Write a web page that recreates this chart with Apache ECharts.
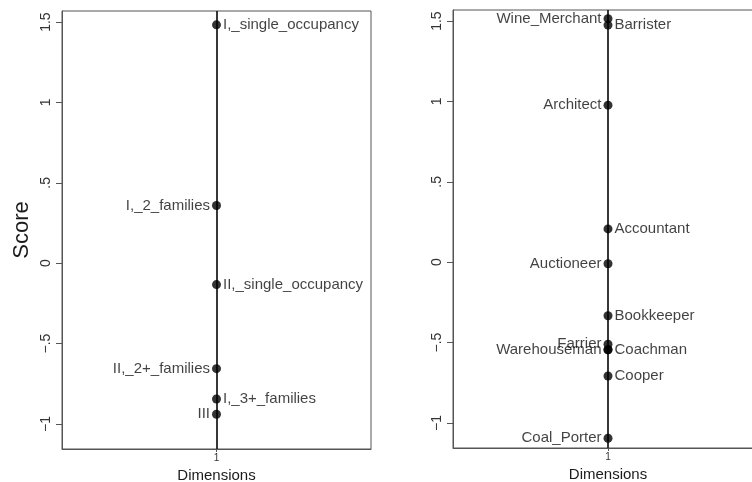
<!DOCTYPE html>
<html>
<head>
<meta charset="utf-8">
<script src="https://cdn.jsdelivr.net/npm/echarts@6/dist/echarts.min.js"></script>
<style>html,body{margin:0;padding:0;background:#fff}#c{width:752px;height:482px}</style>
</head>
<body>
<div id="c"></div>
<script>
// ---- data ----
var dimCategories = ['1'];
var yTicks = [-1, -0.5, 0, 0.5, 1, 1.5];

var leftNames  = ['I,_single_occupancy', 'I,_2_families', 'II,_single_occupancy', 'II,_2+_families', 'I,_3+_families', 'III'];
var leftScores = [1.483, 0.359, -0.133, -0.656, -0.845, -0.94];
var leftSides  = ['right', 'left', 'right', 'left', 'right', 'left'];

var rightNames  = ['Wine_Merchant', 'Barrister', 'Architect', 'Accountant', 'Auctioneer', 'Bookkeeper', 'Farrier', 'Warehouseman', 'Coachman', 'Cooper', 'Coal_Porter'];
var rightScores = [1.515, 1.475, 0.977, 0.207, -0.01, -0.333, -0.51, -0.545, -0.545, -0.708, -1.095];
var rightSides  = ['left', 'right', 'left', 'right', 'left', 'right', 'left', 'left', 'right', 'right', 'left'];

var yMin = -1.156, yMax = 1.569;

function fmt(v) {
  var s = Math.abs(v) < 1 && v !== 0 ? String(Math.abs(v)).replace(/^0/, '') : String(Math.abs(v));
  return (v < 0 ? '\u2212' : '') + s;
}

var FONT = 'Liberation Sans, Arial, sans-serif';

function mkPoints(names, scores, sides) {
  return names.map(function (n, i) {
    return {
      name: n,
      value: [dimCategories[0], scores[i]],
      label: { position: sides[i] }
    };
  });
}

function mkY(idx, withName) {
  return {
    type: 'value', gridIndex: idx, min: yMin, max: yMax,
    name: withName ? 'Score' : '', nameLocation: 'middle', nameGap: 29,
    nameTextStyle: { fontFamily: FONT, fontSize: 22, color: '#1a1a1a' },
    splitLine: { show: false },
    axisLine: { show: true, onZero: false, lineStyle: { color: '#555', width: 1 } },
    axisTick: { show: true, length: 6, lineStyle: { color: '#555' }, customValues: yTicks },
    axisLabel: { rotate: 90, margin: 9, fontFamily: FONT, fontSize: 14, color: '#333',
      customValues: yTicks, formatter: fmt }
  };
}

function mkX(idx) {
  return {
    type: 'category', gridIndex: idx, data: dimCategories, boundaryGap: true,
    name: 'Dimensions', nameLocation: 'middle', nameGap: 16,
    nameTextStyle: { fontFamily: FONT, fontSize: 15, color: '#1a1a1a' },
    axisLine: { show: true, onZero: false, lineStyle: { color: '#555', width: 1 } },
    axisTick: { show: true, alignWithLabel: true, length: 3, lineStyle: { color: '#555' } },
    axisLabel: { margin: 4, fontFamily: FONT, fontSize: 10, color: '#333' },
    splitLine: { show: false }
  };
}

function mkSeries(idx, names, scores, sides) {
  return {
    type: 'scatter', xAxisIndex: idx, yAxisIndex: idx,
    symbolSize: 9, itemStyle: { color: '#000' },
    z: 3,
    label: { show: true, formatter: '{b}', distance: 2, fontFamily: FONT, fontSize: 15, color: '#111' },
    labelLayout: { hideOverlap: false },
    data: mkPoints(names, scores, sides),
    markLine: {
      silent: true, symbol: 'none', label: { show: false }, z: 1,
      lineStyle: { color: '#222', width: 1.8, type: 'solid' },
      data: [{ xAxis: dimCategories[0] }]
    }
  };
}

var chart = echarts.init(document.getElementById('c'), null, { renderer: 'canvas' });
chart.setOption({
  animation: false,
  backgroundColor: '#fff',
  grid: [
    { left: 62, top: 11, width: 309, height: 438, show: true, borderColor: '#555', borderWidth: 1, outerBoundsMode: 'none', containLabel: false },
    { left: 453, top: 10, width: 310, height: 438, show: true, borderColor: '#555', borderWidth: 1, outerBoundsMode: 'none', containLabel: false }
  ],
  xAxis: [mkX(0), mkX(1)],
  yAxis: [mkY(0, true), mkY(1, false)],
  series: [
    mkSeries(0, leftNames, leftScores, leftSides),
    mkSeries(1, rightNames, rightScores, rightSides)
  ]
});
</script>
</body>
</html>
